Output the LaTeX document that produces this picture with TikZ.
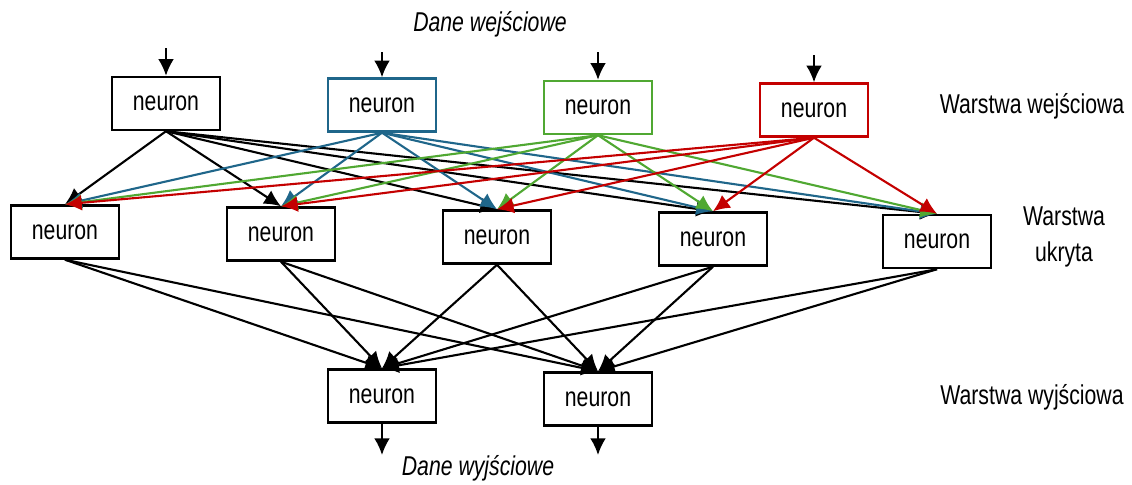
\documentclass[tikz,border=0pt]{standalone}
\usepackage{fontspec}
\setmainfont{Liberation Sans}[FakeStretch=0.78]
\usetikzlibrary{arrows.meta}
\definecolor{wblue}{RGB}{31,102,138}
\definecolor{wgreen}{RGB}{80,168,50}
\definecolor{wred}{RGB}{196,0,0}
\tikzset{
  neuron/.style={draw, line width=1.4pt, minimum width=2.16cm, minimum height=1.06cm,
    font=\fontsize{15.5}{18}\selectfont},
  conn/.style={->, line width=1.2pt},
  layer/.style={font=\fontsize{15.5}{19}\selectfont, align=center}
}

\begin{document}
\begin{tikzpicture}[x=0.02cm, y=-0.02cm, >={Latex[length=9.5pt,width=9pt]}]
\useasboundingbox (0,0) rectangle (1132,484);
% warstwa wejsciowa
\node[neuron] (we1) at (166,103.5) {neuron};
\node[neuron, draw=wblue] (we2) at (382,105) {neuron};
\node[neuron, draw=wgreen] (we3) at (598,107.5) {neuron};
\node[neuron, draw=wred] (we4) at (814,110) {neuron};
% warstwa ukryta
\node[neuron] (uk1) at (65,232) {neuron};
\node[neuron] (uk2) at (281,234) {neuron};
\node[neuron] (uk3) at (497,237) {neuron};
\node[neuron] (uk4) at (713,239) {neuron};
\node[neuron] (uk5) at (937,241.5) {neuron};
% warstwa wyjsciowa
\node[neuron] (wy1) at (382,396) {neuron};
\node[neuron] (wy2) at (598,399) {neuron};

% wejscia i wyjscia
\coordinate (in1) at (166,48);
\coordinate (in2) at (382,52);
\coordinate (in3) at (598,52);
\coordinate (in4) at (814,55);
\coordinate (out1) at (382,455);
\coordinate (out2) at (598,455);
\foreach \i in {1,...,4}
  \draw[conn] (in\i) -- (we\i);
\foreach \i in {1,2}
  \draw[conn] (wy\i) -- (out\i);

% polaczenia
\foreach \i in {1,...,5}
  \foreach \j in {1,2}
    \draw[conn] (uk\i.south) -- (wy\j.north);
\foreach \i/\c in {1/black, 2/wblue, 3/wgreen, 4/wred}
  \foreach \j in {1,...,5}
    \draw[conn, \c] (we\i.south) -- (uk\j.north);

% opisy
\node[layer, font=\fontsize{15.5}{19}\selectfont\itshape] (daneWe) at (490,24) {Dane wejściowe};
\node[layer, font=\fontsize{15.5}{19}\selectfont\itshape] (daneWy) at (478,468) {Dane wyjściowe};
\node[layer] (opisWe) at (1032,106) {Warstwa wejściowa};
\node[layer] (opisUk) at (1064,237) {Warstwa\\[1pt]ukryta};
\node[layer] (opisWy) at (1032,397) {Warstwa wyjściowa};
\end{tikzpicture}
\end{document}
